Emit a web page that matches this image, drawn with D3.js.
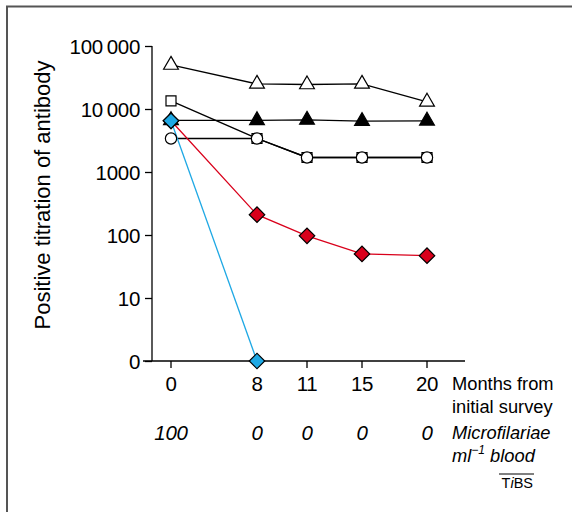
<!DOCTYPE html>
<html>
<head>
<meta charset="utf-8">
<script src="https://cdn.jsdelivr.net/npm/d3@7"></script>
<style>
  body { margin: 0; background: #fff; }
  text { font-family: "Liberation Sans", Arial, sans-serif; fill: #000; }
</style>
</head>
<body>
<div id="chart"></div>
<script>
//Data
const months = [0, 8, 11, 15, 20];
const monthLabels = ["0", "8", "11", "15", "20"];
const microLabels = ["100", "0", "0", "0", "0"];
const yTicks = [1, 10, 100, 1000, 10000, 100000];
const yTickLabels = ["0", "10", "100", "1000", "10\u2009000", "100\u2009000"];

const openTriangle = [50000, 25000, 24500, 25000, 13000];
const filledTriangle = [6600, 6600, 6700, 6400, 6500];
const openSquare = [13500, 3400, 1700, 1700, 1700];
const openCircle = [3400, 3400, 1700, 1700, 1700];
const redDiamond = [6500, 210, 97, 50, 47];
const blueDiamond = [6500, 1];

//Width and Height
let width = 572;
let height = 512;
let tickFont = "20.5px";
let labelFont = "18.3px";

let svg = d3.select("#chart").append("svg")
  .attr("width", width)
  .attr("height", height);

//Frame (open on right and bottom)
svg.append("path")
  .attr("d", "M7,512 V6.5 H572")
  .attr("fill", "none")
  .attr("stroke", "#555")
  .attr("stroke-width", 2);

//Scales
let x = d3.scaleLinear()
  .domain(months)
  .range([171, 257, 307, 362, 427]);

let y = d3.scaleLog()
  .domain([1, 100000])
  .range([361, 46]);

let axisX = 152;

//Y axis
let yAxis = svg.append("g")
  .attr("transform", "translate(" + axisX + ",0)")
  .call(d3.axisLeft(y).tickValues(yTicks).tickFormat((d, i) => yTickLabels[i]).tickSize(7).tickPadding(5));
yAxis.select(".domain").attr("stroke", "#000").attr("stroke-width", 1.3).attr("d", "M0," + y(100000) + "V" + y(1));
yAxis.selectAll(".tick line").attr("stroke", "#000").attr("stroke-width", 1.3);
yAxis.selectAll(".tick text")
  .style("font-family", "'Liberation Sans', Arial, sans-serif")
  .style("font-size", tickFont)
  .style("letter-spacing", "-0.3px")
  .attr("fill", "#000")
  .attr("dy", "0.36em");

//X axis
svg.append("line")
  .attr("x1", 143).attr("x2", 465)
  .attr("y1", y(1)).attr("y2", y(1))
  .attr("stroke", "#000").attr("stroke-width", 1.3);

svg.append("g").selectAll("line")
  .data(months)
  .enter()
  .append("line")
  .attr("x1", d => x(d)).attr("x2", d => x(d))
  .attr("y1", y(1)).attr("y2", y(1) + 7)
  .attr("stroke", "#000").attr("stroke-width", 1.3);

svg.append("g").selectAll("text")
  .data(months)
  .enter()
  .append("text")
  .attr("x", d => x(d))
  .attr("y", 391)
  .attr("text-anchor", "middle")
  .style("font-size", tickFont)
  .style("letter-spacing", "-0.3px")
  .text((d, i) => monthLabels[i]);

svg.append("g").selectAll("text")
  .data(months)
  .enter()
  .append("text")
  .attr("x", d => x(d))
  .attr("y", 440)
  .attr("text-anchor", "middle")
  .style("font-size", tickFont)
  .style("font-style", "italic")
  .style("letter-spacing", "-0.3px")
  .text((d, i) => microLabels[i]);

//Side labels
svg.append("text").attr("x", 452).attr("y", 390).style("font-size", labelFont).text("Months from");
svg.append("text").attr("x", 452).attr("y", 413).style("font-size", labelFont).text("initial survey");
svg.append("text").attr("x", 452).attr("y", 439).style("font-size", labelFont).style("font-style", "italic").text("Microfilariae");
let ml = svg.append("text").attr("x", 452).attr("y", 462).style("font-size", labelFont).style("font-style", "italic");
ml.append("tspan").text("ml");
ml.append("tspan").attr("dy", -8).style("font-size", "12px").text("\u22121");
ml.append("tspan").attr("dy", 8).text(" blood");

//TiBS
let tibs = svg.append("text").attr("x", 533).attr("y", 488).attr("text-anchor", "end").style("font-size", "14.5px");
tibs.append("tspan").text("T");
tibs.append("tspan").style("font-style", "italic").text("i");
tibs.append("tspan").text("BS");
svg.append("line").attr("x1", 499).attr("x2", 534).attr("y1", 474).attr("y2", 474).attr("stroke", "#000").attr("stroke-width", 1);

//Y axis title
svg.append("text")
  .attr("transform", "translate(50,195) rotate(-90)")
  .attr("text-anchor", "middle")
  .style("font-size", "22px")
  .text("Positive titration of antibody");

//Series
function drawLine(vals, color) {
  let line = d3.line()
    .x((d, i) => x(months[i]))
    .y(d => y(d));
  svg.append("path")
    .datum(vals)
    .attr("d", line)
    .attr("fill", "none")
    .attr("stroke", color)
    .attr("stroke-width", 1.3);
}

function drawMarks(vals, symbol, size, fill, rotate) {
  svg.append("g").selectAll("path")
    .data(vals)
    .enter()
    .append("path")
    .attr("d", d3.symbol().type(symbol).size(size))
    .attr("transform", (d, i) => "translate(" + x(months[i]) + "," + y(d) + ")" + (rotate ? " rotate(45)" : ""))
    .attr("fill", fill)
    .attr("stroke", "#000")
    .attr("stroke-width", 1.2);
}

drawLine(openTriangle, "#000");
drawLine(filledTriangle, "#000");
drawLine(openSquare, "#000");
drawLine(openCircle, "#000");
drawLine(redDiamond, "#d9001b");
drawLine(blueDiamond, "#1ea8e4");

drawMarks(openTriangle, d3.symbolTriangle, 95, "#fff");
drawMarks(filledTriangle, d3.symbolTriangle, 95, "#000");
drawMarks(openSquare, d3.symbolSquare, 100, "#fff");
drawMarks(openCircle, d3.symbolCircle, 100, "#fff");
drawMarks(redDiamond, d3.symbolSquare, 120, "#d9001b", true);
drawMarks(blueDiamond, d3.symbolSquare, 120, "#1ea8e4", true);
</script>
</body>
</html>
